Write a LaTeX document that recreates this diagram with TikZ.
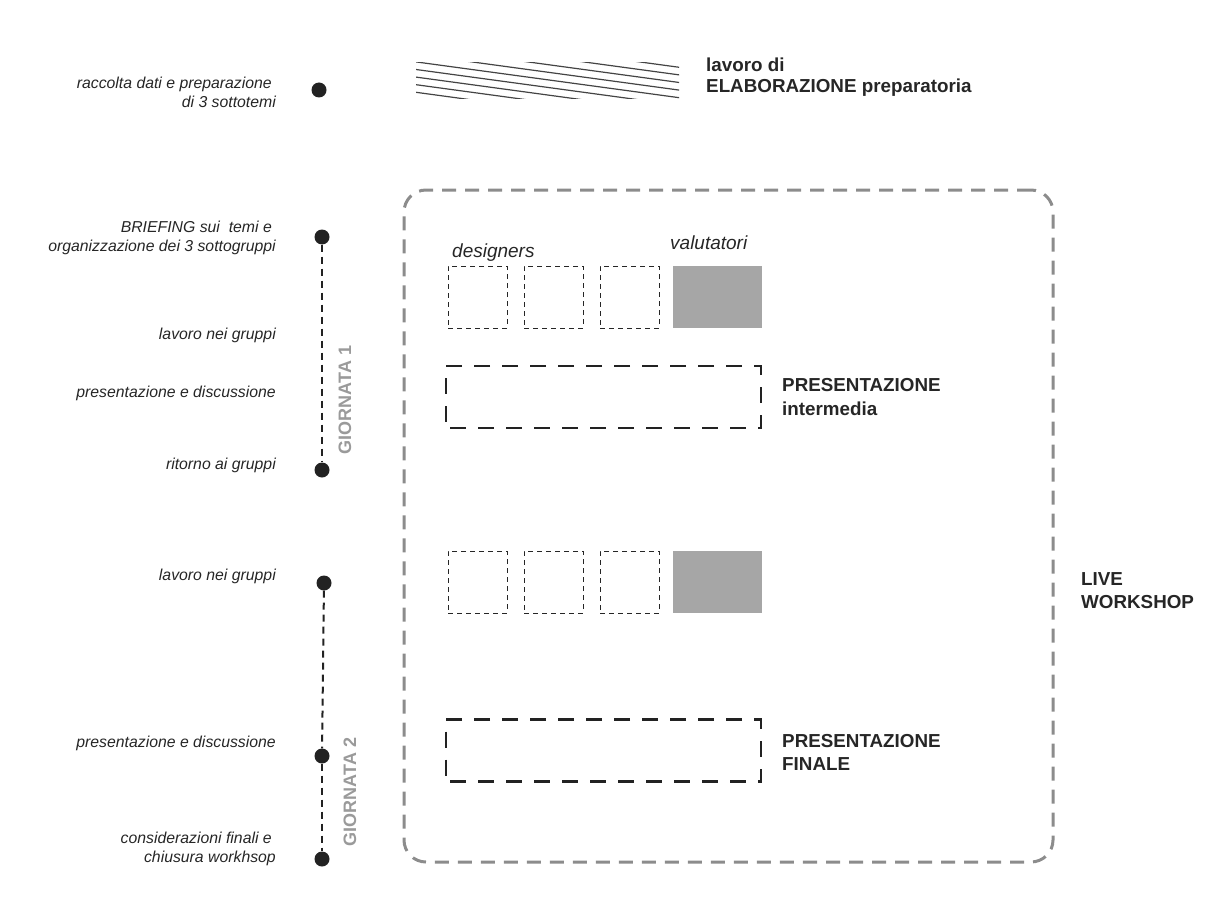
\documentclass[tikz,border=0pt]{standalone}
\usepackage{fontspec}
\setmainfont{Liberation Sans}
\definecolor{txtc}{HTML}{262626}
\definecolor{dotc}{HTML}{222222}
\definecolor{boxgray}{HTML}{8C8C8C}
\definecolor{fillgray}{HTML}{A6A6A6}
\definecolor{daygray}{HTML}{9A9A9A}
\definecolor{hatchc}{HTML}{444444}
\begin{document}
\begin{tikzpicture}[x=1pt,y=-1pt,
  lbl/.style={font=\fontsize{15.8}{19}\selectfont\itshape, text=txtc, align=right, anchor=base east, inner sep=0pt},
  boldlbl/.style={font=\fontsize{18.8}{23}\selectfont\bfseries, text=txtc, anchor=base west, inner sep=0pt},
  role/.style={font=\fontsize{19}{20}\selectfont\itshape, text=txtc, anchor=base west, inner sep=0pt},
  dot/.style={circle, fill=dotc, minimum size=15pt, inner sep=0pt},
  timeline/.style={draw=dotc, line width=2pt, dash pattern=on 7pt off 5pt},
  smallbox/.style={draw=txtc, line width=1pt, dash pattern=on 5pt off 4pt, minimum width=59pt, minimum height=62pt, inner sep=0pt},
  valbox/.style={fill=fillgray, minimum width=89pt, minimum height=62pt, inner sep=0pt},
  presbox/.style={draw=dotc, line width=2.5pt, dash pattern=on 16pt off 12pt, dash phase=-4pt, minimum width=315pt, minimum height=62pt, inner sep=0pt},
  bigbox/.style={draw=boxgray, line width=3pt, dash pattern=on 14pt off 9pt, rounded corners=22pt, minimum width=649pt, minimum height=672pt, inner sep=0pt},
  daylbl/.style={rotate=90, text=daygray, font=\fontsize{18}{20}\selectfont\bfseries, inner sep=0pt}
]
\useasboundingbox (0,0) rectangle (1214,920);

% hatch
\begin{scope}
  \clip (416,63) rectangle (679,98.5);
  \foreach \k in {0,...,10} {
    \draw[hatchc, line width=1.2pt] (410,{92.3+7.6-7.6*\k-0.816}) -- (690,{92.3+7.6-7.6*\k+0.136*274});
  }
\end{scope}
\node[boldlbl] (elab1) at (706,72) {lavoro di};
\node[boldlbl] (elab2) at (706,93) {ELABORAZIONE preparatoria};

% dots and timelines
\node[dot] (d0) at (319,90) {};
\node[dot] (g1a) at (322,237) {};
\node[dot] (g1b) at (322,470) {};
\node[dot] (g2a) at (324,583) {};
\node[dot] (g2b) at (322,756) {};
\node[dot] (g2c) at (322,859) {};
\draw[timeline] (g1a) -- (g1b);
\draw[timeline] (g2a) -- (g2b);
\draw[timeline] (g2b) -- (g2c);

\node[daylbl] (day1) at (345,400) {GIORNATA 1};
\node[daylbl] (day2) at (350,792) {GIORNATA 2};

% left labels
\node[lbl] (l1a) at (276,89) {raccolta dati e preparazione\hspace{4pt}};
\node[lbl] (l1b) at (276,108) {di 3 sottotemi};
\node[lbl] (l2a) at (276,232) {BRIEFING sui\ \ temi e\hspace{4pt}};
\node[lbl] (l2b) at (276,251) {organizzazione dei 3 sottogruppi};
\node[lbl] (l3) at (276,339) {lavoro nei gruppi};
\node[lbl] (l4) at (276,397) {presentazione e discussione};
\node[lbl] (l5) at (276,469) {ritorno ai gruppi};
\node[lbl] (l6) at (276,580) {lavoro nei gruppi};
\node[lbl] (l7) at (276,747) {presentazione e discussione};
\node[lbl] (l8a) at (276,843) {considerazioni finali e\hspace{4pt}};
\node[lbl] (l8b) at (276,862) {chiusura workhsop};

% live workshop frame
\node[bigbox] (ws) at (728.5,526) {};
\node[boldlbl] (ws1) at (1081,585.5) {LIVE};
\node[boldlbl] (ws2) at (1081,608.5) {WORKSHOP};

% roles
\node[role] (des) at (452,257) {designers};
\node[role] (val) at (670,249) {valutatori};

% row 1
\node[smallbox] (a1) at (477.5,297) {};
\node[smallbox] (a2) at (553.5,297) {};
\node[smallbox] (a3) at (629.5,297) {};
\node[valbox] (a4) at (717.5,297) {};

% presentation 1
\node[presbox] (p1) at (603.5,397) {};
\node[boldlbl] (p1a) at (782,391) {PRESENTAZIONE};
\node[boldlbl] (p1b) at (782,415) {intermedia};

% row 2
\node[smallbox] (b1) at (477.5,582) {};
\node[smallbox] (b2) at (553.5,582) {};
\node[smallbox] (b3) at (629.5,582) {};
\node[valbox] (b4) at (717.5,582) {};

% presentation 2
\node[presbox] (p2) at (603.5,750.5) {};
\node[boldlbl] (p2a) at (782,747) {PRESENTAZIONE};
\node[boldlbl] (p2b) at (782,770) {FINALE};
\end{tikzpicture}
\end{document}
